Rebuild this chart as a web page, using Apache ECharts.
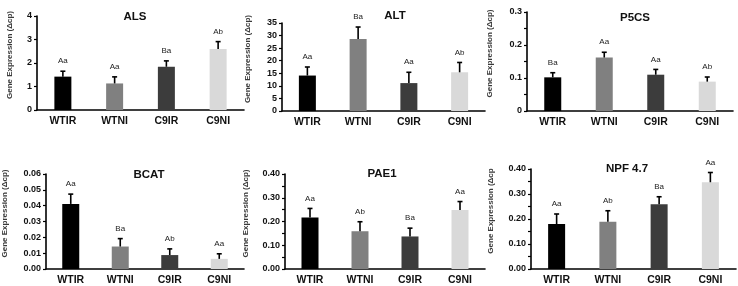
<!DOCTYPE html>
<html>
<head>
<meta charset="utf-8">
<script src="https://cdn.jsdelivr.net/npm/echarts@6/dist/echarts.min.js"></script>
<style>
html, body { margin: 0; padding: 0; background: #fff; }
#main { width: 738px; height: 286px; }
</style>
</head>
<body>
<div id="main"></div>
<script>
// 分组
var categories = ['WTIR', 'WTNI', 'C9IR', 'C9NI']
var barColors = ['#000000', '#808080', '#3c3c3c', '#d9d9d9']

// 各基因的均值、误差和显著性字母
var alsMean = [1.42, 1.13, 1.84, 2.60]
var alsErr = [0.23, 0.28, 0.25, 0.31]
var alsLetters = ['Aa', 'Aa', 'Ba', 'Ab']

var altMean = [14.1, 28.6, 11.1, 15.4]
var altErr = [3.4, 4.8, 4.3, 3.9]
var altLetters = ['Aa', 'Ba', 'Aa', 'Ab']

var p5csMean = [0.102, 0.162, 0.110, 0.089]
var p5csErr = [0.014, 0.016, 0.016, 0.014]
var p5csLetters = ['Ba', 'Aa', 'Aa', 'Ab']

var bcatMean = [0.0411, 0.0142, 0.0088, 0.0064]
var bcatErr = [0.0062, 0.0050, 0.0039, 0.0032]
var bcatLetters = ['Aa', 'Ba', 'Ab', 'Aa']

var pae1Mean = [0.217, 0.159, 0.137, 0.248]
var pae1Err = [0.038, 0.040, 0.035, 0.036]
var pae1Letters = ['Aa', 'Ab', 'Ba', 'Aa']

var npfMean = [0.180, 0.189, 0.259, 0.347]
var npfErr = [0.040, 0.044, 0.030, 0.039]
var npfLetters = ['Aa', 'Ab', 'Ba', 'Aa']

// y轴刻度: [max, interval, 小数位]
var alsTicks = [4, 1, 0]
var altTicks = [35, 5, 0]
var p5csTicks = [0.3, 0.1, 1]
var bcatTicks = [0.06, 0.01, 2]
var pae1Ticks = [0.4, 0.1, 2]
var npfTicks = [0.4, 0.1, 2]

var FONT = '"Liberation Sans", Arial, sans-serif'

var panels = [
	{ title: 'ALS', mean: alsMean, err: alsErr, letters: alsLetters, ticks: alsTicks, minor: false,
		grid: { left: 37, top: 16, width: 207, height: 94 }, titlePos: [130, 6], nameGap: 23, yName: 'Gene Expression (\u0394cp)' },
	{ title: 'ALT', mean: altMean, err: altErr, letters: altLetters, ticks: altTicks, minor: false,
		grid: { left: 282, top: 23, width: 203, height: 88 }, titlePos: [390, 5], nameGap: 30, yName: 'Gene Expression (\u0394cp)' },
	{ title: 'P5CS', mean: p5csMean, err: p5csErr, letters: p5csLetters, ticks: p5csTicks, minor: true,
		grid: { left: 527, top: 12, width: 206, height: 99 }, titlePos: [630, 7], nameGap: 33, yName: 'Gene Expression (\u0394cp)' },
	{ title: 'BCAT', mean: bcatMean, err: bcatErr, letters: bcatLetters, ticks: bcatTicks, minor: false,
		grid: { left: 42, top: 174, width: 202, height: 96 }, titlePos: [144, 164], nameGap: 37, yName: 'Gene Expression (\u0394cp)' },
	{ title: 'PAE1', mean: pae1Mean, err: pae1Err, letters: pae1Letters, ticks: pae1Ticks, minor: true,
		grid: { left: 285, top: 174, width: 200, height: 96 }, titlePos: [377, 163], nameGap: 35, yName: 'Gene Expression (\u0394cp)' },
	{ title: 'NPF 4.7', mean: npfMean, err: npfErr, letters: npfLetters, ticks: npfTicks, minor: true,
		grid: { left: 531, top: 169, width: 205, height: 101 }, titlePos: [622, 158], nameGap: 36, yName: 'Gene Expression (\u0394cp' }
]

// 误差线 + 字母
function makeErrRender(letters) {
	return function(params, api) {
		var i = api.value(0)
		var m = api.value(1)
		var e = api.value(2)
		var base = api.coord([i, m])
		var top = api.coord([i, m + e])
		var st = { stroke: '#000', lineWidth: 1.6 }
		return {
			type: 'group',
			children: [
				{ type: 'line', shape: { x1: top[0], y1: base[1], x2: top[0], y2: top[1] }, style: st },
				{ type: 'line', shape: { x1: top[0] - 2.5, y1: top[1], x2: top[0] + 2.5, y2: top[1] }, style: st },
				{ type: 'text', x: top[0], y: top[1] - 10, style: {
					text: letters[params.dataIndex], fill: '#222', font: '8px ' + FONT,
					align: 'center', verticalAlign: 'middle' } }
			]
		}
	}
}

var option = { animation: false, title: [], grid: [], xAxis: [], yAxis: [], series: [] }

panels.forEach(function(p, k) {
	option.title.push({
		text: p.title, left: p.titlePos[0], top: p.titlePos[1], textAlign: 'center',
		textStyle: { fontFamily: FONT, fontSize: 11.5, fontWeight: 'bold', color: '#111' }
	})
	option.grid.push(p.grid)
	option.xAxis.push({
		type: 'category', gridIndex: k, data: categories,
		axisLine: { lineStyle: { color: '#000', width: 1.6 } },
		axisTick: { show: false },
		axisLabel: { margin: 6, fontFamily: FONT, fontSize: 10.5, fontWeight: 'bold', color: '#111' }
	})
	var dec = p.ticks[2]
	option.yAxis.push({
		type: 'value', gridIndex: k, min: 0, max: p.ticks[0], interval: p.ticks[1],
		name: p.yName, nameLocation: 'middle', nameRotate: 90, nameGap: p.nameGap,
		nameTextStyle: { fontFamily: FONT, fontSize: 8, fontWeight: 'bold', color: '#3a3a3a', padding: [0, 0, 0, 16] },
		axisLine: { show: true, lineStyle: { color: '#000', width: 1.6 } },
		axisTick: { show: true, length: 3, lineStyle: { color: '#000', width: 1.2 } },
		minorTick: { show: p.minor, splitNumber: 2, length: 3, lineStyle: { color: '#000', width: 1.2 } },
		splitLine: { show: false },
		axisLabel: {
			margin: 5, fontFamily: FONT, fontSize: 9, fontWeight: 'bold', color: '#111',
			formatter: function(v) {
				if (v === 0 && dec === 1) return '0'
				return v.toFixed(dec)
			}
		}
	})
	option.series.push({
		type: 'bar', xAxisIndex: k, yAxisIndex: k, barWidth: 17,
		data: p.mean.map(function(v, i) {
			return { value: v, itemStyle: { color: barColors[i] } }
		})
	})
	option.series.push({
		type: 'custom', xAxisIndex: k, yAxisIndex: k, z: 10,
		renderItem: makeErrRender(p.letters),
		data: p.mean.map(function(v, i) { return [i, v, p.err[i]] })
	})
})

var myChart = echarts.init(document.getElementById('main'))
myChart.setOption(option)
</script>
</body>
</html>
